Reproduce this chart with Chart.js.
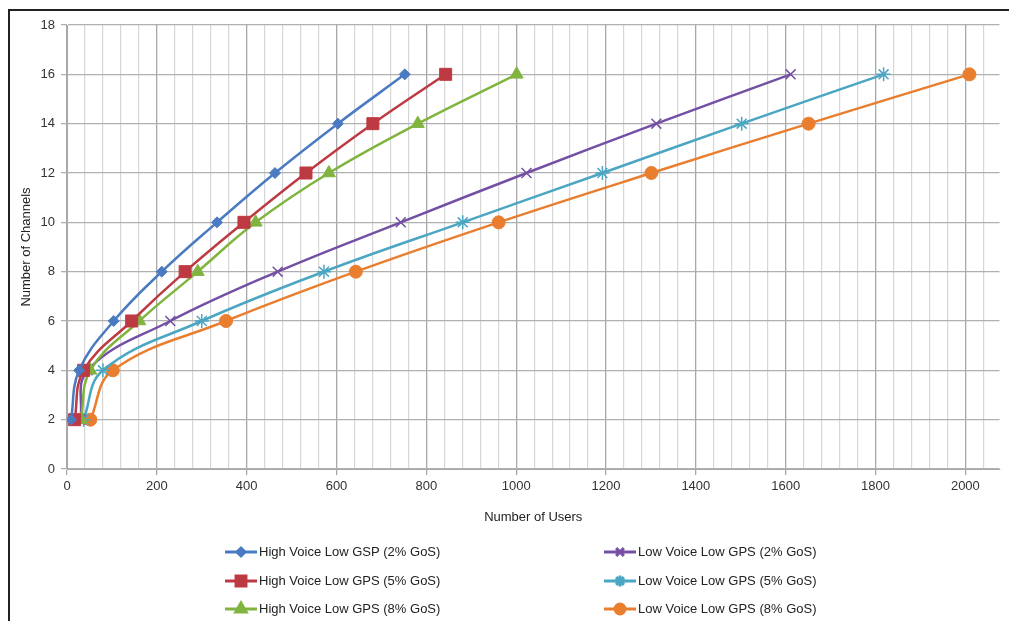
<!DOCTYPE html>
<html>
<head>
<meta charset="utf-8">
<script src="https://cdn.jsdelivr.net/npm/chart.js@4"></script>
<style>
  html, body { margin: 0; padding: 0; background: #fff; }
  #wrap { position: relative; width: 1009px; height: 621px; }
  #frame { position: absolute; left: 8px; top: 9px; right: -5px; bottom: -5px; border-top: 2px solid #222; border-left: 2px solid #222; pointer-events: none; }
</style>
</head>
<body>
<div id="wrap">
  <canvas id="chart" width="1009" height="621"></canvas>
  <div id="frame"></div>
</div>
<script>
  // channels (y) for every series
  var channels = [2, 4, 6, 8, 10, 12, 14, 16];
  // number of users (x)
  var highGsp2 = [9, 27, 104, 211, 334, 463, 603, 752];
  var highGps5 = [17, 37, 144, 263, 394, 532, 681, 843];
  var highGps8 = [31, 52, 161, 291, 420, 583, 781, 1001];
  var lowGps2 = [30, 46, 230, 469, 743, 1023, 1312, 1611];
  var lowGps5 = [37, 80, 300, 572, 881, 1192, 1502, 1818];
  var lowGps8 = [52, 102, 354, 643, 961, 1301, 1651, 2009];

  var seriesNames = [
    'High Voice Low GSP (2% GoS)', 'High Voice Low GPS (5% GoS)', 'High Voice Low GPS (8% GoS)',
    'Low Voice Low GPS (2% GoS)', 'Low Voice Low GPS (5% GoS)', 'Low Voice Low GPS (8% GoS)'
  ];
  var seriesValues = [highGsp2, highGps5, highGps8, lowGps2, lowGps5, lowGps8];
  var colors = ['#4a7bc2', '#be3a42', '#80b43f', '#7350a3', '#4aa6c2', '#e97e2f'];
  var markers = ['rectRot', 'rect', 'triangle', 'crossRot', 'star', 'circle'];
  var sizes = [5.5, 8.5, 7.5, 7, 7, 6.5];

  function pts(xs) {
    return xs.map(function (x, i) { return { x: x, y: channels[i] }; });
  }

  var datasets = seriesNames.map(function (name, i) {
    return {
      label: name,
      data: pts(seriesValues[i]),
      borderColor: colors[i],
      backgroundColor: colors[i],
      pointBackgroundColor: colors[i],
      pointBorderColor: colors[i],
      pointStyle: markers[i],
      pointRadius: sizes[i],
      pointBorderWidth: (markers[i] === 'crossRot' || markers[i] === 'star') ? 1.5 : 1,
      borderWidth: 2.5,
      tension: 0.4,
      fill: false
    };
  });

  // legend drawn in two columns, like the original
  var legendPlugin = {
    id: 'twoColLegend',
    afterDraw: function (chart) {
      var ctx = chart.ctx;
      var cols = [225, 604];
      var rows = [552, 581, 609];
      ctx.save();
      ctx.font = '13px "Liberation Sans", Arial, sans-serif';
      ctx.textBaseline = 'middle';
      ctx.fillStyle = '#222';
      datasets.forEach(function (ds, i) {
        var x = cols[Math.floor(i / 3)], y = rows[i % 3];
        ctx.strokeStyle = ds.borderColor;
        ctx.lineWidth = 3;
        ctx.beginPath(); ctx.moveTo(x, y); ctx.lineTo(x + 32, y); ctx.stroke();
        ctx.fillStyle = ds.borderColor;
        Chart.helpers.drawPoint(ctx, { pointStyle: ds.pointStyle, radius: ds.pointRadius - 1.5, borderWidth: 1.5, rotation: 0 }, x + 16, y);
        ctx.fillStyle = '#222';
        ctx.fillText(ds.label, x + 34, y);
      });
      ctx.restore();
    }
  };

  var ctx = document.getElementById('chart').getContext('2d');
  var myChart = new Chart(ctx, {
    type: 'scatter',
    data: { datasets: datasets },
    plugins: [legendPlugin],
    options: {
      responsive: false,
      animation: false,
      showLine: true,
      layout: { padding: { left: 0, right: 0, top: 25, bottom: 92 } },
      plugins: { legend: { display: false }, tooltip: { enabled: false } },
      scales: {
        x: {
          type: 'linear',
          min: 0,
          max: 2076,
          afterBuildTicks: function (scale) {
            var t = [];
            for (var v = 0; v <= 2040; v += 40) t.push({ value: v });
            scale.ticks = t;
          },
          afterFit: function (scale) { scale.height = 60; },
          grid: {
            color: function (c) { return c.tick && c.tick.value % 200 === 0 ? '#a8a8a8' : '#d6d6d6'; },
            lineWidth: function (c) { return c.tick && c.tick.value % 200 === 0 ? 1.3 : 1.2; },
            tickColor: function (c) { return c.tick && c.tick.value % 200 === 0 ? '#a8a8a8' : 'rgba(0,0,0,0)'; },
            tickLength: 6
          },
          border: { color: '#a8a8a8' },
          ticks: {
            autoSkip: false,
            maxRotation: 0,
            padding: 4,
            color: '#333',
            font: { family: '"Liberation Sans", Arial, sans-serif', size: 13 },
            callback: function (v) { return v % 200 === 0 ? v : ''; }
          },
          title: {
            display: true,
            text: 'Number of Users',
            color: '#222',
            padding: { top: 4 },
            font: { family: '"Liberation Sans", Arial, sans-serif', size: 13 }
          }
        },
        y: {
          min: 0,
          max: 18,
          afterFit: function (scale) { scale.width = 67; },
          grid: { color: '#b0b0b0', lineWidth: 1.3, tickLength: 6 },
          border: { color: '#a8a8a8' },
          ticks: {
            stepSize: 2,
            padding: 6,
            color: '#333',
            font: { family: '"Liberation Sans", Arial, sans-serif', size: 13 }
          },
          title: {
            display: true,
            text: 'Number of Channels',
            color: '#222',
            padding: { top: 19, bottom: 0 },
            font: { family: '"Liberation Sans", Arial, sans-serif', size: 13 }
          }
        }
      }
    }
  });
</script>
</body>
</html>
